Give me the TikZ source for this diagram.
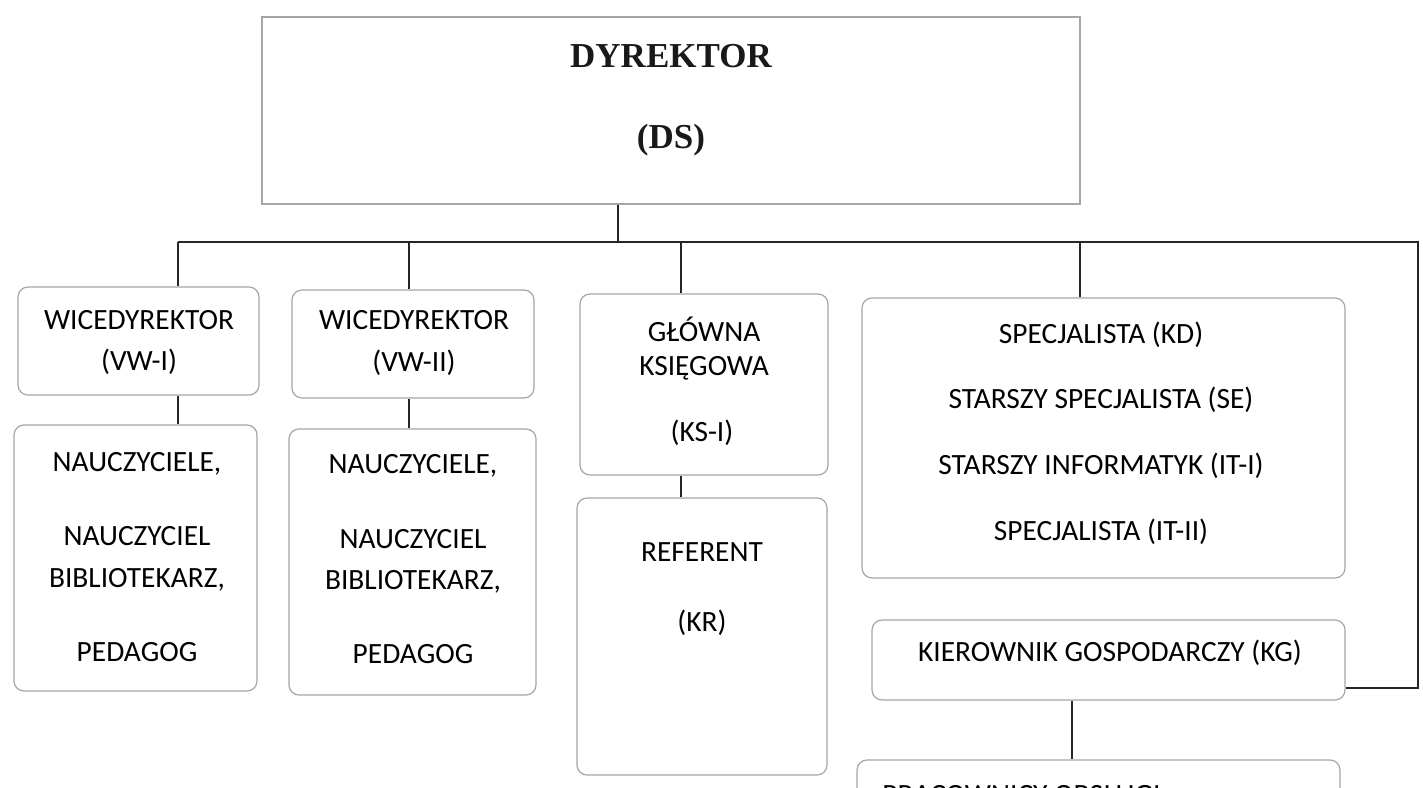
\documentclass[tikz,border=0pt]{standalone}
\usepackage{fontspec}
\setmainfont{Carlito}
\newfontfamily\titlefont{Liberation Serif}
\usetikzlibrary{fit}
\begin{document}
\begin{tikzpicture}[x=0.5pt,y=-0.5pt,
  boxst/.style={draw=black!35, line width=0.6pt, rounded corners=5pt, inner sep=0pt},
  topbox/.style={draw=black!35, line width=0.6pt, inner sep=0pt},
  txt/.style={inner sep=0pt, font=\fontsize{14.7}{16}\selectfont, text=black},
  ttl/.style={inner sep=0pt, font=\titlefont\bfseries\fontsize{17.5}{20}\selectfont, text=black!90},
  conn/.style={draw=black!85, line width=0.6pt}]
\useasboundingbox (0,0) rectangle (1423,787);
\clip (0,0) rectangle (1423,787);
% boxes
\node[topbox, fit={(262,17) (1080,204)}] (ds) {};
\node[boxst, fit={(18,287) (259,395)}] (vw1) {};
\node[boxst, fit={(292,290) (534,398)}] (vw2) {};
\node[boxst, fit={(14,425) (257,691)}] (t1) {};
\node[boxst, fit={(289,429) (536,695)}] (t2) {};
\node[boxst, fit={(580,294) (828,475)}] (gk) {};
\node[boxst, fit={(577,498) (827,775)}] (ref) {};
\node[boxst, fit={(862,298) (1345,578)}] (spec) {};
\node[boxst, fit={(872,620) (1345,700)}] (kg) {};
\node[boxst, fit={(857,760) (1340,860)}] (prac) {};
% texts
\node[ttl] (dst1) at (671,56) {DYREKTOR};
\node[ttl] (dst2) at (671,140) {(DS)};
\node[txt] (vw1a) at (139,320) {WICEDYREKTOR};
\node[txt] (vw1b) at (139,362) {(VW-I)};
\node[txt] (vw2a) at (414,320) {WICEDYREKTOR};
\node[txt] (vw2b) at (414,363) {(VW-II)};
\node[txt] (t1a) at (137,464) {NAUCZYCIELE,};
\node[txt] (t1b) at (137,536) {NAUCZYCIEL};
\node[txt] (t1c) at (137,580) {BIBLIOTEKARZ,};
\node[txt] (t1d) at (137,652) {PEDAGOG};
\node[txt] (t2a) at (413,466) {NAUCZYCIELE,};
\node[txt] (t2b) at (413,539) {NAUCZYCIEL};
\node[txt] (t2c) at (413,582) {BIBLIOTEKARZ,};
\node[txt] (t2d) at (413,654) {PEDAGOG};
\node[txt] (gka) at (704,329) {GŁÓWNA};
\node[txt] (gkb) at (704,368) {KSIĘGOWA};
\node[txt] (gkc) at (702,433) {(KS-I)};
\node[txt] (refa) at (702,552) {REFERENT};
\node[txt] (refb) at (702,623) {(KR)};
\node[txt] (spa) at (1101,335) {SPECJALISTA (KD)};
\node[txt] (spb) at (1101,400) {STARSZY SPECJALISTA (SE)};
\node[txt] (spc) at (1101,466) {STARSZY INFORMATYK (IT-I)};
\node[txt] (spd) at (1101,532) {SPECJALISTA (IT-II)};
\node[txt] (kga) at (1110,653) {KIEROWNIK GOSPODARCZY (KG)};
\node[txt, anchor=west] (pra) at (882,795) {PRACOWNICY OBSŁUGI};
% connectors
\coordinate (bL) at (178,242);
\coordinate (bD) at (618,242);
\coordinate (bV) at (409,242);
\coordinate (bG) at (681,242);
\coordinate (bS) at (1080,242);
\coordinate (bR) at (1418,242);
\coordinate (kgl) at (1418,688);
\coordinate (kgd) at (1072,700);
\draw[conn] (ds.south -| bD) -- (bD);
\draw[conn] (bL) -- (bR) -- (kgl) -- (kg.east |- kgl);
\draw[conn] (bL) -- (vw1.north -| bL);
\draw[conn] (bV) -- (vw2.north -| bV);
\draw[conn] (bG) -- (gk.north -| bG);
\draw[conn] (bS) -- (spec.north -| bS);
\draw[conn] (vw1.south -| bL) -- (t1.north -| bL);
\draw[conn] (vw2.south -| bV) -- (t2.north -| bV);
\draw[conn] (gk.south -| bG) -- (ref.north -| bG);
\draw[conn] (kg.south -| kgd) -- (prac.north -| kgd);
\end{tikzpicture}
\end{document}
